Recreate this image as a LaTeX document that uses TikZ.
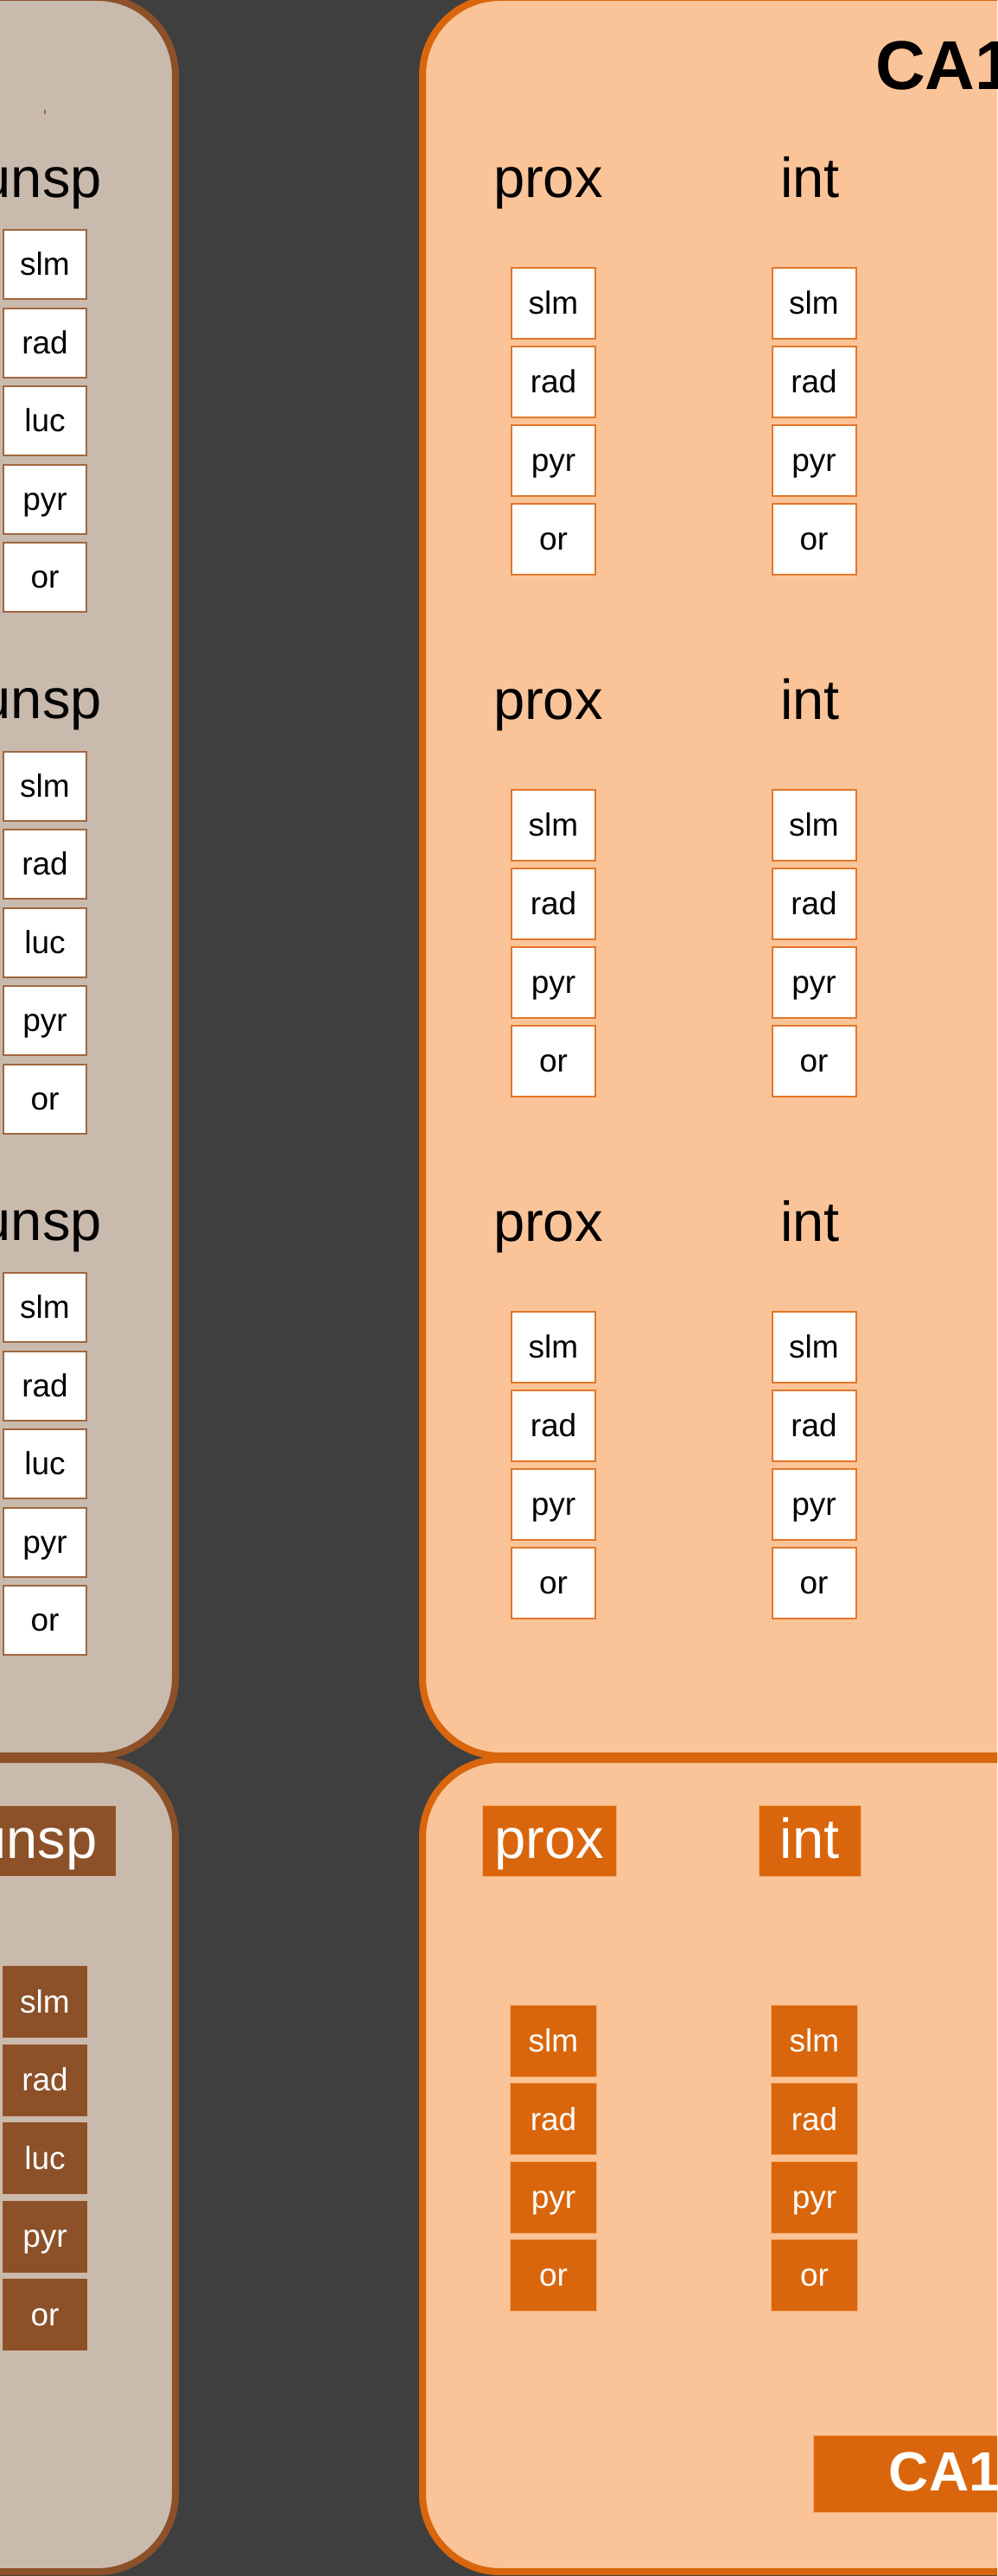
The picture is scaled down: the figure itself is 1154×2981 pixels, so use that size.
\documentclass[tikz,border=0pt]{standalone}
\usepackage{fontspec}
\setmainfont{Liberation Sans}
\definecolor{cBg}{HTML}{3F3F3F}
\definecolor{cTaupe}{HTML}{C9BAAE}
\definecolor{cBrown}{HTML}{8C5129}
\definecolor{cBrownBox}{HTML}{A0673F}
\definecolor{cPeach}{HTML}{FBC498}
\definecolor{cOrange}{HTML}{D9660C}
\definecolor{cOrangeBox}{HTML}{E2772A}
\definecolor{cBrownEdge}{HTML}{D2B8A4}
\definecolor{cOrangeEdge}{HTML}{F4A86A}
\begin{document}
\begin{tikzpicture}[x=1pt,y=-1pt,
  panelL/.style={draw=cBrown, fill=cTaupe, line width=8pt, rounded corners=90pt},
  panelR/.style={draw=cOrange, fill=cPeach, line width=8pt, rounded corners=90pt},
  smalltext/.style={font=\fontsize{37}{40}\selectfont, text height=30.7pt, text depth=5.5pt, inner sep=0pt},
  wboxL/.style={smalltext, draw=cBrownBox, fill=white, text=black, line width=2pt, minimum width=96pt, minimum height=80pt},
  wboxR/.style={smalltext, draw=cOrangeBox, fill=white, text=black, line width=2pt, minimum width=97pt, minimum height=82pt},
  fboxL/.style={smalltext, draw=cBrownEdge, fill=cBrown, text=white, line width=1pt, minimum width=99pt, minimum height=84pt},
  fboxR/.style={smalltext, draw=cOrangeEdge, fill=cOrange, text=white, line width=1pt, minimum width=100pt, minimum height=83pt},
  biglabel/.style={font=\fontsize{65}{70}\selectfont, inner sep=0pt, text=black},
  tagL/.style={font=\fontsize{65}{70}\selectfont, inner sep=0pt, text=white, fill=cBrown, draw=cBrownEdge, line width=1pt, minimum height=82pt, text height=52pt, text depth=13pt},
  tagR/.style={font=\fontsize{65}{70}\selectfont, inner sep=0pt, text=white, fill=cOrange, draw=cOrangeEdge, line width=1pt, minimum height=82pt, text height=52pt, text depth=13pt},
]
\useasboundingbox (0,0) rectangle (1154,2981);
\clip (0,0) rectangle (1154,2981);
\fill[cBg] (0,0) rectangle (1154,2981);

% panels
\draw[panelL] (-400,-3) rectangle (203,2032);
\draw[panelR] (489,-3) rectangle (1600,2032);
\draw[panelL] (-400,2036) rectangle (203,2976);
\draw[panelR] (489,2036) rectangle (1600,2976);

% tiny mark
\fill[cBrownBox] (51,127) rectangle (53,132);

% upper title
\node[font=\fontsize{80}{86}\selectfont\bfseries, inner sep=0pt, anchor=base west] (ca1top) at (1013,104) {CA1};

% upper groups
\foreach \g in {0,1,2} {
  \node[biglabel, anchor=base east] (unsp\g) at (118,{228+603.5*\g}) {unsp};
  \node[biglabel, anchor=base west] (prox\g) at (571,{228+604*\g}) {prox};
  \node[biglabel, anchor=base west] (int\g) at (903,{228+604*\g}) {int};
  \foreach \t [count=\k from 0] in {slm,rad,luc,pyr,or} {
    \node[wboxL] (ul\g\k) at (52,{306+603.5*\g+90.5*\k}) {\t};
  }
  \foreach \t [count=\k from 0] in {slm,rad,pyr,or} {
    \node[wboxR] (up\g\k) at (640.5,{351+604*\g+91*\k}) {\t};
    \node[wboxR] (ui\g\k) at (942,{351+604*\g+91*\k}) {\t};
  }
}

% lower section
\node[tagL, minimum width=184pt] (unspL) at (42,2130.5) {unsp};
\node[tagR, minimum width=155pt] (proxL) at (635.5,2130.5) {prox};
\node[tagR, minimum width=118pt] (intL) at (937,2130.5) {int};
\foreach \t [count=\k from 0] in {slm,rad,luc,pyr,or} {
  \node[fboxL] (ll\k) at (52,{2316.5+90.5*\k}) {\t};
}
\foreach \t [count=\k from 0] in {slm,rad,pyr,or} {
  \node[fboxR] (lp\k) at (640.5,{2362+90.4*\k}) {\t};
  \node[fboxR] (li\k) at (942.5,{2362+90.4*\k}) {\t};
}
\node[font=\fontsize{64}{70}\selectfont\bfseries, inner sep=0pt, text=white, fill=cOrange, draw=cOrangeEdge, line width=1pt, minimum width=304pt, minimum height=89pt, text height=48pt, text depth=10pt] (ca1bot) at (1093,2863) {CA1};
\end{tikzpicture}
\end{document}
